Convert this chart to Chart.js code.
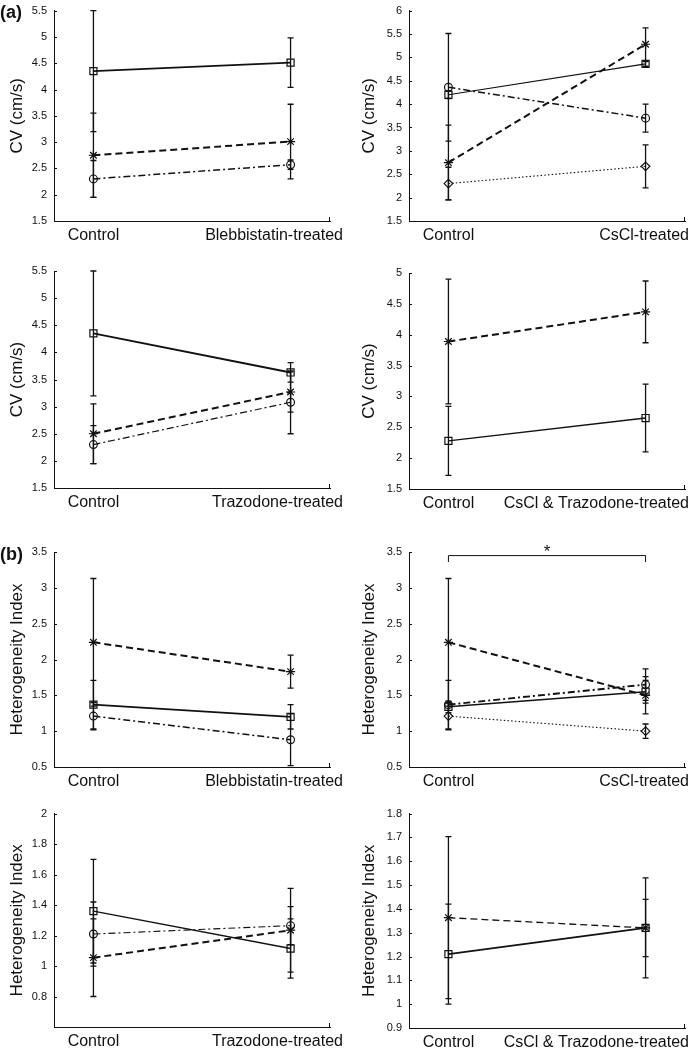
<!DOCTYPE html>
<html>
<head>
<meta charset="utf-8">
<script src="https://cdn.jsdelivr.net/npm/chart.js@4.4.1/dist/chart.umd.min.js"></script>
<style>
  html, body { margin: 0; padding: 0; background: #fff; }
  body { width: 692px; height: 1050px; position: relative; overflow: hidden; }
  canvas { position: absolute; }
  .tag { position: absolute; font: bold 18px "Liberation Sans", Arial, sans-serif; line-height: 18px; color: #111; z-index: 5; }
</style>
</head>
<body>
<div class="tag" style="left:0px;top:3px">(a)</div>
<div class="tag" style="left:0px;top:545px">(b)</div>
<script>
// ---------- DATA ----------
const labelsBleb   = ['Control', 'Blebbistatin-treated'];
const labelsCsCl   = ['Control', 'CsCl-treated'];
const labelsTraz   = ['Control', 'Trazodone-treated'];
const labelsCsTraz = ['Control', 'CsCl & Trazodone-treated'];

const cvTitle = 'CV (cm/s)';
const hiTitle = 'Heterogeneity Index';

const cvBlebTicks   = [1.5, 2, 2.5, 3, 3.5, 4, 4.5, 5, 5.5];
const cvCsClTicks   = [1.5, 2, 2.5, 3, 3.5, 4, 4.5, 5, 5.5, 6];
const cvTrazTicks   = [1.5, 2, 2.5, 3, 3.5, 4, 4.5, 5, 5.5];
const cvCsTrazTicks = [1.5, 2, 2.5, 3, 3.5, 4, 4.5, 5];
const hiBlebTicks   = [0.5, 1, 1.5, 2, 2.5, 3, 3.5];
const hiCsClTicks   = [0.5, 1, 1.5, 2, 2.5, 3, 3.5];
const hiTrazTicks   = [0.8, 1, 1.2, 1.4, 1.6, 1.8, 2];
const hiCsTrazTicks = [0.9, 1, 1.1, 1.2, 1.3, 1.4, 1.5, 1.6, 1.7, 1.8];

// CV - Blebbistatin
const cvBlebSquare = [4.35, 4.51];  const cvBlebSquareErr = [1.15, 0.47];
const cvBlebStar   = [2.75, 3.01];  const cvBlebStarErr   = [0.80, 0.71];
const cvBlebCircle = [2.30, 2.57];  const cvBlebCircleErr = [0.35, 0.09];
// CV - CsCl
const cvCsClSquare  = [4.20, 4.86]; const cvCsClSquareErr  = [0.08, 0.05];
const cvCsClStar    = [2.75, 5.28]; const cvCsClStarErr    = [0.80, 0.35];
const cvCsClCircle  = [4.36, 3.70]; const cvCsClCircleErr  = [1.15, 0.30];
const cvCsClDiamond = [2.30, 2.67]; const cvCsClDiamondErr = [0.35, 0.46];
// CV - Trazodone
const cvTrazSquare = [4.35, 3.63];  const cvTrazSquareErr = [1.15, 0.18];
const cvTrazStar   = [2.50, 3.27];  const cvTrazStarErr   = [0.55, 0.37];
const cvTrazCircle = [2.30, 3.08];  const cvTrazCircleErr = [0.35, 0.58];
// CV - CsCl & Trazodone
const cvCsTrazStar   = [3.89, 4.37]; const cvCsTrazStarErr   = [1.01, 0.50];
const cvCsTrazSquare = [2.28, 2.65]; const cvCsTrazSquareErr = [0.56, 0.55];
// HI - Blebbistatin
const hiBlebStar   = [2.24, 1.83];  const hiBlebStarErr   = [0.89, 0.23];
const hiBlebSquare = [1.37, 1.20];  const hiBlebSquareErr = [0.34, 0.17];
const hiBlebCircle = [1.21, 0.88];  const hiBlebCircleErr = [0.19, 0.36];
// HI - CsCl
const hiCsClStar    = [2.24, 1.50]; const hiCsClStarErr    = [0.89, 0.26];
const hiCsClSquare  = [1.34, 1.55]; const hiCsClSquareErr  = [0.08, 0.16];
const hiCsClCircle  = [1.37, 1.65]; const hiCsClCircleErr  = [0.34, 0.22];
const hiCsClDiamond = [1.21, 1.00]; const hiCsClDiamondErr = [0.19, 0.10];
// HI - Trazodone
const hiTrazSquare = [1.36, 1.115]; const hiTrazSquareErr = [0.34, 0.195];
const hiTrazCircle = [1.21, 1.265]; const hiTrazCircleErr = [0.21, 0.125];
const hiTrazStar   = [1.055, 1.235]; const hiTrazStarErr  = [0.255, 0.275];
// HI - CsCl & Trazodone
const hiCsTrazStar   = [1.363, 1.32]; const hiCsTrazStarErr   = [0.34, 0.21];
const hiCsTrazSquare = [1.21, 1.32];  const hiCsTrazSquareErr = [0.21, 0.12];

// significance marker (panel b, CsCl)
const hiCsClBracket = { y: 3.45, end: 3.36, starY: 3.49, text: '*' };

// ---------- STYLES ----------
const FONT = '"Liberation Sans", Arial, Helvetica, sans-serif';
const INK = '#111';
const STY = {
  square:  { pointStyle: 'rect',    radius: 5.0, dash: [],           width: 1.7 },
  star:    { pointStyle: 'star',    radius: 4.6, dash: [7, 4],       width: 2.0 },
  circle:  { pointStyle: 'circle',  radius: 3.9, dash: [7, 3, 2, 3], width: 1.5 },
  diamond: { pointStyle: 'rectRot', radius: 4.3, dash: [1.5, 2.2],   width: 1.1 }
};

const L = { left: 0, width: 346, axisL: 54, axisR: 330, titleX: 17 };
const R = { left: 346, width: 346, axisL: 409, axisR: 685, titleX: 23.5 };
const rows = [
  { top: -3,  bottom: 250 },
  { top: 250, bottom: 525 },
  { top: 525, bottom: 800 },
  { top: 800, bottom: 1050 }
];

const panels = [
  { col: L, row: 0, aTop: 5,   aBot: 221, min: 1.5, max: 5.5, ticks: cvBlebTicks, title: cvTitle, labels: labelsBleb,
    series: [['square', cvBlebSquare, cvBlebSquareErr], ['star', cvBlebStar, cvBlebStarErr], ['circle', cvBlebCircle, cvBlebCircleErr]] },
  { col: R, row: 0, aTop: 6,   aBot: 221, min: 1.5, max: 6, ticks: cvCsClTicks, title: cvTitle, labels: labelsCsCl,
    series: [['square', cvCsClSquare, cvCsClSquareErr, 1.2], ['star', cvCsClStar, cvCsClStarErr], ['circle', cvCsClCircle, cvCsClCircleErr], ['diamond', cvCsClDiamond, cvCsClDiamondErr]] },
  { col: L, row: 1, aTop: 271, aBot: 488, min: 1.5, max: 5.5, ticks: cvTrazTicks, title: cvTitle, labels: labelsTraz,
    series: [['square', cvTrazSquare, cvTrazSquareErr, 2], ['star', cvTrazStar, cvTrazStarErr], ['circle', cvTrazCircle, cvTrazCircleErr, 1.2]] },
  { col: R, row: 1, aTop: 273, aBot: 489, min: 1.5, max: 5, ticks: cvCsTrazTicks, title: cvTitle, labels: labelsCsTraz,
    series: [['star', cvCsTrazStar, cvCsTrazStarErr], ['square', cvCsTrazSquare, cvCsTrazSquareErr, 1.4]] },
  { col: L, row: 2, aTop: 552, aBot: 767, min: 0.5, max: 3.5, ticks: hiBlebTicks, title: hiTitle, labels: labelsBleb,
    series: [['star', hiBlebStar, hiBlebStarErr], ['square', hiBlebSquare, hiBlebSquareErr], ['circle', hiBlebCircle, hiBlebCircleErr]] },
  { col: R, row: 2, aTop: 552, aBot: 767, min: 0.5, max: 3.5, ticks: hiCsClTicks, title: hiTitle, labels: labelsCsCl, bracket: hiCsClBracket,
    series: [['star', hiCsClStar, hiCsClStarErr], ['square', hiCsClSquare, hiCsClSquareErr, 1.4], ['circle', hiCsClCircle, hiCsClCircleErr, 1.9], ['diamond', hiCsClDiamond, hiCsClDiamondErr]] },
  { col: L, row: 3, aTop: 812, aBot: 1027, min: 0.6, max: 2, ticks: hiTrazTicks, title: hiTitle, labels: labelsTraz,
    series: [['square', hiTrazSquare, hiTrazSquareErr, 1.4], ['circle', hiTrazCircle, hiTrazCircleErr, 1.1], ['star', hiTrazStar, hiTrazStarErr]] },
  { col: R, row: 3, aTop: 813, aBot: 1028, min: 0.9, max: 1.8, ticks: hiCsTrazTicks, title: hiTitle, labels: labelsCsTraz,
    series: [['star', hiCsTrazStar, hiCsTrazStarErr, 1.3], ['square', hiCsTrazSquare, hiCsTrazSquareErr, 1.8]] }
];

function makeDecor(p) {
  return {
    id: 'decor',
    beforeDatasetsDraw(chart) {
      const { ctx, scales: { x, y } } = chart;
      ctx.save();
      ctx.strokeStyle = INK;
      ctx.lineWidth = 1.3;
      ctx.setLineDash([]);
      chart.data.datasets.forEach(ds => {
        ds.data.forEach((pt, j) => {
          const e = ds.errors[j];
          const px = x.getPixelForValue(pt.x);
          const yTop = y.getPixelForValue(pt.y + e);
          const yBot = y.getPixelForValue(pt.y - e);
          ctx.beginPath();
          ctx.moveTo(px, yTop); ctx.lineTo(px, yBot);
          ctx.moveTo(px - 3, yTop); ctx.lineTo(px + 3, yTop);
          ctx.moveTo(px - 3, yBot); ctx.lineTo(px + 3, yBot);
          ctx.stroke();
        });
      });
      ctx.restore();
    },
    afterDraw(chart) {
      const { ctx, chartArea: a, scales: { x, y } } = chart;
      ctx.save();
      ctx.strokeStyle = INK;
      ctx.lineWidth = 1;
      ctx.setLineDash([]);
      // inward y ticks
      ctx.beginPath();
      y.ticks.forEach(t => {
        const py = Math.round(y.getPixelForValue(t.value)) + 0.5;
        ctx.moveTo(a.left, py); ctx.lineTo(a.left + 3, py);
      });
      // small tick at right end of x-axis
      ctx.moveTo(Math.round(a.right) - 0.5, a.bottom); ctx.lineTo(Math.round(a.right) - 0.5, a.bottom - 4);
      ctx.stroke();
      // category labels
      ctx.fillStyle = INK;
      ctx.font = '16px ' + FONT;
      ctx.textBaseline = 'middle';
      ctx.textAlign = 'left';
      chart.data.labels.forEach((lab, i) => {
        const w = ctx.measureText(lab).width;
        let lx = x.getPixelForValue(i) - w / 2;
        if (lx + w > chart.width - 3) lx = chart.width - 3 - w;
        ctx.fillText(lab, lx, a.bottom + 15);
      });
      // significance bracket
      if (p.bracket) {
        const b = p.bracket;
        const x0 = x.getPixelForValue(0), x1 = x.getPixelForValue(1);
        const yl = y.getPixelForValue(b.y), ye = y.getPixelForValue(b.end);
        ctx.beginPath();
        ctx.moveTo(x0, ye); ctx.lineTo(x0, yl); ctx.lineTo(x1, yl); ctx.lineTo(x1, ye);
        ctx.stroke();
        ctx.font = '17px ' + FONT;
        ctx.textAlign = 'center';
        ctx.fillText(b.text, x.getPixelForValue(0.5), y.getPixelForValue(b.starY));
      }
      ctx.restore();
    }
  };
}

panels.forEach(p => {
  const row = rows[p.row];
  const c = p.col;
  const cv = document.createElement('canvas');
  const h = row.bottom - row.top;
  cv.width = c.width; cv.height = h;
  cv.style.left = c.left + 'px'; cv.style.top = row.top + 'px';
  cv.style.width = c.width + 'px'; cv.style.height = h + 'px';
  document.body.appendChild(cv);

  const padTop = p.aTop - row.top;
  const xH = row.bottom - p.aBot;
  const yW = c.axisL - c.left;
  const padRight = c.left + c.width - c.axisR;
  const titlePad = c.titleX - 17 * 1.2 / 2;

  const datasets = p.series.map(([kind, means, errs, lw]) => {
    const s = STY[kind];
    return {
      data: means.map((v, i) => ({ x: i, y: v })),
      errors: errs,
      borderColor: INK,
      borderWidth: lw || s.width,
      borderDash: s.dash,
      pointStyle: s.pointStyle,
      pointRadius: s.radius,
      pointBorderWidth: 1.2,
      pointBorderColor: INK,
      pointBackgroundColor: 'rgba(0,0,0,0)',
      fill: false,
      tension: 0
    };
  });

  new Chart(cv, {
    type: 'line',
    data: { labels: p.labels, datasets },
    options: {
      responsive: false,
      animation: false,
      devicePixelRatio: 1,
      layout: { padding: { top: padTop, left: 0, right: padRight, bottom: 0 } },
      plugins: { legend: { display: false }, tooltip: { enabled: false } },
      scales: {
        x: {
          type: 'linear', min: -0.2, max: 1.2,
          grid: { display: false },
          border: { display: true, color: INK, width: 1 },
          ticks: { display: false },
          afterFit: s => { s.height = xH; }
        },
        y: {
          type: 'linear', min: p.min, max: p.max,
          afterBuildTicks: s => { s.ticks = p.ticks.map(v => ({ value: v })); },
          grid: { drawOnChartArea: false, drawTicks: false },
          border: { display: true, color: INK, width: 1 },
          ticks: {
            padding: 7, color: INK, font: { size: 11, family: FONT },
            callback: v => String(Math.round(v * 100) / 100)
          },
          title: {
            display: true, text: p.title, color: INK,
            font: { size: 17, family: FONT },
            padding: { top: titlePad, bottom: 0 }
          },
          afterFit: s => { s.width = yW; }
        }
      }
    },
    plugins: [makeDecor(p)]
  });
});
</script>
</body>
</html>
